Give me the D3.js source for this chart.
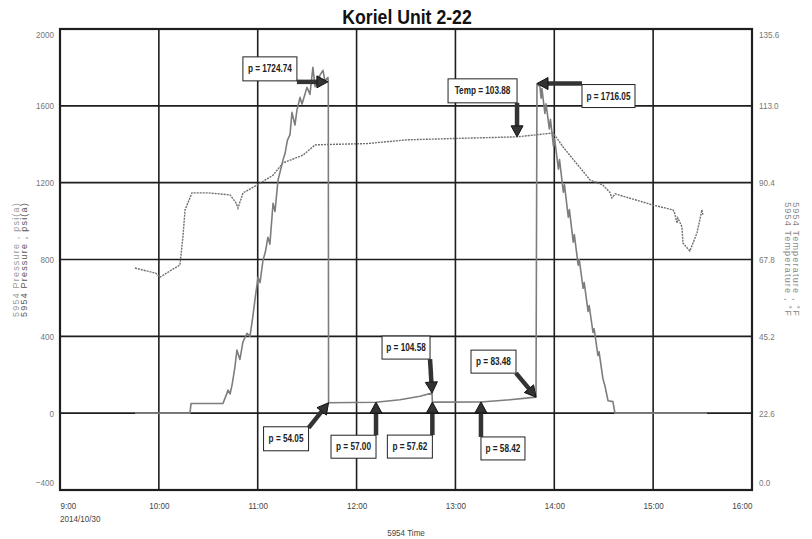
<!DOCTYPE html>
<html>
<head>
<meta charset="utf-8">
<script src="https://cdn.jsdelivr.net/npm/d3@7"></script>
<style>
  body { margin: 0; background: #fff; }
  svg text { font-family: "Liberation Sans", Arial, sans-serif; }
</style>
</head>
<body>
<script>
// ---- data ----
var pressureTimes = ["09:45:30","10:18:54","10:19:30","10:38:54","10:40:42","10:42:00","10:43:12","10:44:30","10:46:00","10:47:24",
  "10:49:12","10:51:00","10:53:30","10:55:18","10:57:00","10:58:18","11:00:12","11:01:24","11:03:12","11:04:40",
  "11:06:12","11:07:24","11:09:18","11:10:30","11:12:18","11:15:18","11:16:36","11:18:00","11:19:36","11:20:48",
  "11:22:36","11:23:48","11:25:42","11:26:54","11:29:54","11:31:42","11:33:30","11:34:48","11:36:00","11:37:48",
  "11:39:36","11:40:48","11:42:36","11:42:50","11:43:00","12:11:48","12:26:18","12:38:30","12:45:48","12:46:00",
  "13:15:30","13:33:06","13:48:54","13:49:30","13:51:18","13:52:00","13:52:30","13:54:18","13:55:00","13:57:00",
  "13:57:40","13:59:30","14:00:10","14:02:30","14:03:10","14:05:30","14:06:10","14:08:30","14:09:10","14:11:30",
  "14:12:10","14:14:30","14:15:10","14:17:30","14:18:10","14:20:30","14:21:10","14:23:30","14:24:10","14:26:30",
  "14:27:10","14:29:30","14:30:48","14:32:36","14:35:36","14:36:48","15:32:42"];
var pressureValues = [0,0,50,50,90,120,100,150,230,328,
  280,370,416,400,500,588,708,680,796,840,
  916,880,1093,1050,1212,1316,1353,1420,1450,1566,
  1500,1577,1644,1610,1696,1660,1800,1700,1717,1760,
  1785,1730,1748,1724.74,54.05,57.00,70,88,104.58,57.62,
  58.42,70,83.48,1716.05,1700,1640,1690,1560,1610,1480,
  1530,1390,1430,1270,1320,1150,1190,1020,1060,890,
  930,770,800,650,680,530,560,420,440,300,
  320,180,140,65,60,0,0];

var tempTimes = ["09:45:30","09:52:00","09:58:00","10:00:42","10:06:00","10:12:48","10:14:36","10:15:54","10:20:06","10:30:00",
  "10:43:12","10:46:48","10:48:00","10:51:06","10:59:36","11:09:18","11:15:18","11:27:30","11:34:48","11:40:00",
  "12:06:24","12:30:36","13:00:00","13:37:24","13:59:12","14:01:36","14:05:18","14:21:42","14:29:30","14:33:48",
  "14:35:00","14:37:00","15:00:00","15:12:00","15:13:00","15:14:30","15:15:00","15:17:30","15:18:06","15:22:18",
  "15:26:36","15:29:36","15:30:12"];
var tempValues = [65.3,64.5,63.8,62.6,64.2,66.2,74.4,82.4,87.4,87.4,
  86.8,84.5,82.9,87.4,89.7,92.6,96.2,98.5,101.5,101.6,
  101.9,103.0,103.4,103.88,105.0,103.5,100.9,91.2,89.7,87.5,
  85.9,87.1,83.8,82.4,81.5,78.5,80.0,77.4,72.6,70.3,
  75.6,82.4,81.0];

var pressureTicks = [-400, 0, 400, 800, 1200, 1600, 2000];
var tempTicks = ["0.0", "22.6", "45.2", "67.8", "90.4", "113.0", "135.6"];
var timeTicks = ["09:00","10:00","11:00","12:00","13:00","14:00","15:00","16:00"];

var calloutLabels = ["p = 1724.74","Temp = 103.88","p = 1716.05","p = 104.58","p = 54.05","p = 57.00","p = 57.62","p = 58.42","p = 83.48"];
var calloutTimes = ["11:42:36","13:37:24","13:49:30","12:45:48","11:43:00","12:11:48","12:46:00","13:15:30","13:48:54"];
var calloutValues = [1724.74,103.88,1716.05,104.58,54.05,57.00,57.62,58.42,83.48];
var calloutAxis = ["p","t","p","p","p","p","p","p","p"];

// box placement relative to arrow tip: [boxLeft, boxTop, boxW, boxH, tailDx, tailDy]
var calloutLayout = [
  [-85, -25, 54, 24, -31, 0],
  [-69, -58, 69, 24, 0, -34],
  [45, 1, 53, 23, 45, 0],
  [-50, -57, 48, 23, -2, -34],
  [-65, 24, 45, 24, -20, 25],
  [-45, 33, 45, 23, 0, 33],
  [-45, 33, 45, 23, 0, 33],
  [0, 35, 44, 23, 0, 35],
  [-65, -47, 45, 23, -20, -24]
];

var W = 812, H = 539;
var margin = {top: 29, right: 60, bottom: 49, left: 60};
var w = W - margin.left - margin.right;
var h = H - margin.top - margin.bottom;

var parseT = d3.timeParse("%Y-%m-%d %H:%M:%S");
function tm(s) { return parseT("2014-10-30 " + (s.length == 5 ? s + ":00" : s)); }

// squeeze text horizontally to mimic a narrow face
function narrow(sel, f) {
  sel.each(function() {
    var l = this.getComputedTextLength();
    d3.select(this).attr("textLength", l * f).attr("lengthAdjust", "spacingAndGlyphs");
  });
}

var x = d3.scaleTime().domain([tm("09:00"), tm("16:00")]).range([0, w]);
var yP = d3.scaleLinear().domain([-400, 2000]).range([h, 0]);
var yT = d3.scaleLinear().domain([0, 135.6]).range([h, 0]);

var svg = d3.select("body").append("svg").attr("width", W).attr("height", H);

svg.append("text")
  .attr("x", 407).attr("y", 24)
  .attr("text-anchor", "middle")
  .attr("font-size", "21px").attr("font-weight", "bold")
  .attr("fill", "#111")
  .text("Koriel Unit 2-22")
  .call(narrow, 0.84);

var g = svg.append("g").attr("transform", "translate(" + margin.left + "," + margin.top + ")");

// grid
g.selectAll("line.hgrid").data(pressureTicks).enter().append("line")
  .attr("x1", 0).attr("x2", w)
  .attr("y1", function(d) { return yP(d); }).attr("y2", function(d) { return yP(d); })
  .attr("stroke", "#1e1e1e").attr("stroke-width", 1.6);
g.selectAll("line.vgrid").data(timeTicks).enter().append("line")
  .attr("x1", function(d) { return x(tm(d)); }).attr("x2", function(d) { return x(tm(d)); })
  .attr("y1", 0).attr("y2", h)
  .attr("stroke", "#1e1e1e").attr("stroke-width", 1.6);
g.append("rect").attr("width", w).attr("height", h)
  .attr("fill", "none").attr("stroke", "#1e1e1e").attr("stroke-width", 2.2);

// axes (labels only)
function clampY(y) { return Math.max(8, Math.min(h - 5, y + 3)); }

var left = g.append("g").call(d3.axisLeft(yP).tickValues(pressureTicks).tickSize(0).tickFormat(d3.format("d")));
left.select(".domain").remove();
left.selectAll("text").attr("x", -6).attr("dy", null)
  .attr("y", function(d) { return clampY(yP(d)) - yP(d); })
  .attr("font-size", "9.5px").attr("fill", "#777").attr("font-family", null)
  .call(narrow, 0.85);

var right = g.append("g").attr("transform", "translate(" + w + ",0)")
  .call(d3.axisRight(yT).tickValues(tempTicks.map(Number)).tickSize(0).tickFormat(d3.format(".1f")));
right.select(".domain").remove();
right.selectAll("text").attr("x", 7).attr("dy", null)
  .attr("y", function(d) { return clampY(yT(d)) - yT(d); })
  .attr("font-size", "9.5px").attr("fill", "#777").attr("font-family", null)
  .call(narrow, 0.85);

var bottom = g.append("g").attr("transform", "translate(0," + h + ")")
  .call(d3.axisBottom(x).tickValues(timeTicks.map(tm)).tickSize(0).tickFormat(d3.timeFormat("%-H:%M")));
bottom.select(".domain").remove();
bottom.selectAll("text").attr("y", 19).attr("dy", null)
  .attr("font-size", "9.5px").attr("fill", "#444").attr("font-family", null)
  .attr("text-anchor", function(d, i) { return i == 0 ? "start" : (i == timeTicks.length - 1 ? "end" : "middle"); })
  .call(narrow, 0.85);

g.append("text").attr("x", 0).attr("y", h + 32)
  .attr("font-size", "9.5px").attr("fill", "#444").text("2014/10/30").call(narrow, 0.85);
g.append("text").attr("x", w / 2).attr("y", h + 46).attr("text-anchor", "middle")
  .attr("font-size", "9.5px").attr("fill", "#444").text("5954 Time").call(narrow, 0.85);

// axis titles
var ly = margin.top + h / 2;
svg.append("text").attr("transform", "translate(19," + ly + ") rotate(-90)")
  .attr("text-anchor", "middle").attr("font-size", "9px").attr("letter-spacing", "1.2px")
  .attr("fill", "#999").text("5954 Pressure , psi(a)");
svg.append("text").attr("transform", "translate(27," + ly + ") rotate(-90)")
  .attr("text-anchor", "middle").attr("font-size", "9px").attr("letter-spacing", "1.2px")
  .attr("fill", "#555").text("5954 Pressure , psi(a)");
svg.append("text").attr("transform", "translate(793," + ly + ") rotate(90)")
  .attr("text-anchor", "middle").attr("font-size", "9px").attr("letter-spacing", "1.2px")
  .attr("fill", "#888").text("5954 Temperature , °F");
svg.append("text").attr("transform", "translate(785," + ly + ") rotate(90)")
  .attr("text-anchor", "middle").attr("font-size", "9px").attr("letter-spacing", "1.2px")
  .attr("fill", "#888").text("5954 Temperature , °F");

// series
var pressure = pressureTimes.map(function(t, i) { return [tm(t), pressureValues[i]]; });
var temp = tempTimes.map(function(t, i) { return [tm(t), tempValues[i]]; });

g.append("path").datum(temp)
  .attr("d", d3.line().x(function(d) { return x(d[0]); }).y(function(d) { return yT(d[1]); }))
  .attr("fill", "none").attr("stroke", "#6e6e6e").attr("stroke-width", 1.4)
  .attr("stroke-dasharray", "2,1");

g.append("path").datum(pressure)
  .attr("d", d3.line().x(function(d) { return x(d[0]); }).y(function(d) { return yP(d[1]); }))
  .attr("fill", "none").attr("stroke", "#7d7d7d").attr("stroke-width", 1.6)
  .attr("stroke-linejoin", "round");

// callouts
var callouts = calloutLabels.map(function(l, i) {
  var tx = x(tm(calloutTimes[i]));
  var ty = calloutAxis[i] == "t" ? yT(calloutValues[i]) : yP(calloutValues[i]);
  return {label: l, tx: tx, ty: ty, lay: calloutLayout[i]};
});

var cg = g.selectAll("g.callout").data(callouts).enter().append("g");

cg.append("rect")
  .attr("x", function(d) { return d.tx + d.lay[0]; })
  .attr("y", function(d) { return d.ty + d.lay[1]; })
  .attr("width", function(d) { return d.lay[2]; })
  .attr("height", function(d) { return d.lay[3]; })
  .attr("fill", "#fff").attr("stroke", "#222").attr("stroke-width", 1);

cg.append("text")
  .attr("x", function(d) { return d.tx + d.lay[0] + d.lay[2] / 2; })
  .attr("y", function(d) { return d.ty + d.lay[1] + d.lay[3] / 2 + 3.5; })
  .attr("text-anchor", "middle")
  .attr("font-size", "10px").attr("font-weight", "bold").attr("fill", "#222")
  .text(function(d) { return d.label; })
  .call(narrow, 0.82);

cg.each(function(d) {
  var x0 = d.tx + d.lay[4], y0 = d.ty + d.lay[5];
  var dx = d.tx - x0, dy = d.ty - y0;
  var len = Math.sqrt(dx * dx + dy * dy);
  var ux = dx / len, uy = dy / len;
  var hl = 11, hw = 6;
  var bx = d.tx - ux * hl, by = d.ty - uy * hl;
  var sel = d3.select(this);
  sel.append("line").attr("x1", x0).attr("y1", y0).attr("x2", bx).attr("y2", by)
    .attr("stroke", "#333").attr("stroke-width", 4.5);
  sel.append("path")
    .attr("d", "M" + d.tx + "," + d.ty +
      "L" + (bx - uy * hw) + "," + (by + ux * hw) +
      "L" + (bx + uy * hw) + "," + (by - ux * hw) + "Z")
    .attr("fill", "#333").attr("stroke", "#111").attr("stroke-width", 1);
});
</script>
</body>
</html>
